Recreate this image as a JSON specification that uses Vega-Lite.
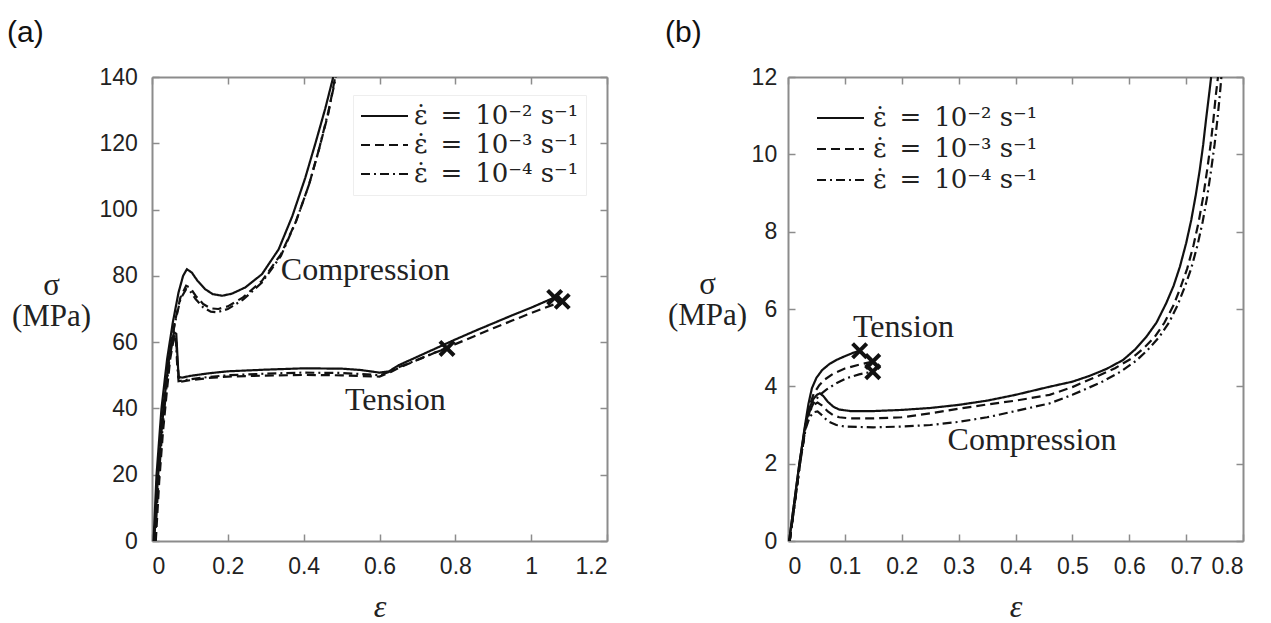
{
"$schema":"https://vega.github.io/schema/vega-lite/v6.json",
"padding":{"left":7,"top":18,"right":5,"bottom":5},
"background":"white",
"datasets":{
"curves":[
{"p":"a","m":"C","r":"2","e":0.004,"s":0},{"p":"a","m":"C","r":"2","e":0.012,"s":20},{"p":"a","m":"C","r":"2","e":0.025,"s":40},{"p":"a","m":"C","r":"2","e":0.04,"s":55},{"p":"a","m":"C","r":"2","e":0.055,"s":66},{"p":"a","m":"C","r":"2","e":0.07,"s":75},{"p":"a","m":"C","r":"2","e":0.082,"s":80},{"p":"a","m":"C","r":"2","e":0.092,"s":82},{"p":"a","m":"C","r":"2","e":0.105,"s":81},{"p":"a","m":"C","r":"2","e":0.12,"s":78.5},{"p":"a","m":"C","r":"2","e":0.14,"s":76},{"p":"a","m":"C","r":"2","e":0.16,"s":74.5},{"p":"a","m":"C","r":"2","e":0.185,"s":74},{"p":"a","m":"C","r":"2","e":0.21,"s":74.6},{"p":"a","m":"C","r":"2","e":0.246,"s":76.5},{"p":"a","m":"C","r":"2","e":0.29,"s":80.5},{"p":"a","m":"C","r":"2","e":0.334,"s":88},{"p":"a","m":"C","r":"2","e":0.37,"s":98},{"p":"a","m":"C","r":"2","e":0.404,"s":109.5},{"p":"a","m":"C","r":"2","e":0.431,"s":120},{"p":"a","m":"C","r":"2","e":0.457,"s":130.5},{"p":"a","m":"C","r":"2","e":0.478,"s":140},
{"p":"a","m":"C","r":"3","e":0.008,"s":0},{"p":"a","m":"C","r":"3","e":0.016,"s":20},{"p":"a","m":"C","r":"3","e":0.03,"s":40},{"p":"a","m":"C","r":"3","e":0.045,"s":55},{"p":"a","m":"C","r":"3","e":0.06,"s":66},{"p":"a","m":"C","r":"3","e":0.075,"s":73.5},{"p":"a","m":"C","r":"3","e":0.09,"s":77},{"p":"a","m":"C","r":"3","e":0.1,"s":76.5},{"p":"a","m":"C","r":"3","e":0.115,"s":74},{"p":"a","m":"C","r":"3","e":0.135,"s":71.5},{"p":"a","m":"C","r":"3","e":0.155,"s":70.2},{"p":"a","m":"C","r":"3","e":0.175,"s":70},{"p":"a","m":"C","r":"3","e":0.2,"s":70.8},{"p":"a","m":"C","r":"3","e":0.24,"s":73.5},{"p":"a","m":"C","r":"3","e":0.29,"s":78.5},{"p":"a","m":"C","r":"3","e":0.34,"s":86.5},{"p":"a","m":"C","r":"3","e":0.38,"s":96.5},{"p":"a","m":"C","r":"3","e":0.414,"s":107.5},{"p":"a","m":"C","r":"3","e":0.44,"s":118},{"p":"a","m":"C","r":"3","e":0.465,"s":129},{"p":"a","m":"C","r":"3","e":0.483,"s":140},
{"p":"a","m":"C","r":"4","e":0.006,"s":0},{"p":"a","m":"C","r":"4","e":0.014,"s":20},{"p":"a","m":"C","r":"4","e":0.028,"s":40},{"p":"a","m":"C","r":"4","e":0.044,"s":55},{"p":"a","m":"C","r":"4","e":0.06,"s":65.5},{"p":"a","m":"C","r":"4","e":0.075,"s":73},{"p":"a","m":"C","r":"4","e":0.09,"s":76},{"p":"a","m":"C","r":"4","e":0.1,"s":75.5},{"p":"a","m":"C","r":"4","e":0.115,"s":73},{"p":"a","m":"C","r":"4","e":0.135,"s":70.5},{"p":"a","m":"C","r":"4","e":0.155,"s":69.2},{"p":"a","m":"C","r":"4","e":0.172,"s":69},{"p":"a","m":"C","r":"4","e":0.2,"s":70},{"p":"a","m":"C","r":"4","e":0.24,"s":72.8},{"p":"a","m":"C","r":"4","e":0.29,"s":78},{"p":"a","m":"C","r":"4","e":0.34,"s":86},{"p":"a","m":"C","r":"4","e":0.38,"s":96.5},{"p":"a","m":"C","r":"4","e":0.414,"s":107.5},{"p":"a","m":"C","r":"4","e":0.44,"s":118},{"p":"a","m":"C","r":"4","e":0.465,"s":129.5},{"p":"a","m":"C","r":"4","e":0.485,"s":140},
{"p":"a","m":"T","r":"2","e":0.006,"s":0},{"p":"a","m":"T","r":"2","e":0.015,"s":18},{"p":"a","m":"T","r":"2","e":0.025,"s":33},{"p":"a","m":"T","r":"2","e":0.035,"s":45},{"p":"a","m":"T","r":"2","e":0.045,"s":55},{"p":"a","m":"T","r":"2","e":0.052,"s":60},{"p":"a","m":"T","r":"2","e":0.058,"s":63},{"p":"a","m":"T","r":"2","e":0.064,"s":62.5},{"p":"a","m":"T","r":"2","e":0.067,"s":56},{"p":"a","m":"T","r":"2","e":0.07,"s":49.5},{"p":"a","m":"T","r":"2","e":0.08,"s":49.3},{"p":"a","m":"T","r":"2","e":0.1,"s":49.8},{"p":"a","m":"T","r":"2","e":0.15,"s":50.6},{"p":"a","m":"T","r":"2","e":0.2,"s":51.2},{"p":"a","m":"T","r":"2","e":0.3,"s":51.7},{"p":"a","m":"T","r":"2","e":0.4,"s":52.1},{"p":"a","m":"T","r":"2","e":0.5,"s":52},{"p":"a","m":"T","r":"2","e":0.55,"s":51.6},{"p":"a","m":"T","r":"2","e":0.6,"s":50.8},{"p":"a","m":"T","r":"2","e":0.625,"s":51.2},{"p":"a","m":"T","r":"2","e":0.65,"s":53},{"p":"a","m":"T","r":"2","e":0.7,"s":55.6},{"p":"a","m":"T","r":"2","e":0.75,"s":58.2},{"p":"a","m":"T","r":"2","e":0.8,"s":60.8},{"p":"a","m":"T","r":"2","e":0.85,"s":63.3},{"p":"a","m":"T","r":"2","e":0.9,"s":65.7},{"p":"a","m":"T","r":"2","e":0.95,"s":68.1},{"p":"a","m":"T","r":"2","e":1.0,"s":70.4},{"p":"a","m":"T","r":"2","e":1.062,"s":73.5},
{"p":"a","m":"T","r":"3","e":0.01,"s":0},{"p":"a","m":"T","r":"3","e":0.019,"s":18},{"p":"a","m":"T","r":"3","e":0.029,"s":33},{"p":"a","m":"T","r":"3","e":0.039,"s":45},{"p":"a","m":"T","r":"3","e":0.048,"s":55},{"p":"a","m":"T","r":"3","e":0.055,"s":59.5},{"p":"a","m":"T","r":"3","e":0.06,"s":61.5},{"p":"a","m":"T","r":"3","e":0.064,"s":60.5},{"p":"a","m":"T","r":"3","e":0.067,"s":54},{"p":"a","m":"T","r":"3","e":0.072,"s":48},{"p":"a","m":"T","r":"3","e":0.1,"s":48.5},{"p":"a","m":"T","r":"3","e":0.15,"s":49.2},{"p":"a","m":"T","r":"3","e":0.2,"s":49.6},{"p":"a","m":"T","r":"3","e":0.3,"s":49.9},{"p":"a","m":"T","r":"3","e":0.4,"s":50.1},{"p":"a","m":"T","r":"3","e":0.5,"s":50},{"p":"a","m":"T","r":"3","e":0.55,"s":49.8},{"p":"a","m":"T","r":"3","e":0.6,"s":49.6},{"p":"a","m":"T","r":"3","e":0.63,"s":51},{"p":"a","m":"T","r":"3","e":0.65,"s":52.2},{"p":"a","m":"T","r":"3","e":0.7,"s":54.6},{"p":"a","m":"T","r":"3","e":0.75,"s":57},{"p":"a","m":"T","r":"3","e":0.8,"s":59.4},{"p":"a","m":"T","r":"3","e":0.85,"s":61.8},{"p":"a","m":"T","r":"3","e":0.9,"s":64.2},{"p":"a","m":"T","r":"3","e":0.95,"s":66.5},{"p":"a","m":"T","r":"3","e":1.0,"s":68.8},{"p":"a","m":"T","r":"3","e":1.082,"s":72.3},
{"p":"a","m":"T","r":"4","e":0.008,"s":0},{"p":"a","m":"T","r":"4","e":0.017,"s":18},{"p":"a","m":"T","r":"4","e":0.027,"s":33},{"p":"a","m":"T","r":"4","e":0.037,"s":45},{"p":"a","m":"T","r":"4","e":0.046,"s":55},{"p":"a","m":"T","r":"4","e":0.053,"s":59.5},{"p":"a","m":"T","r":"4","e":0.059,"s":62},{"p":"a","m":"T","r":"4","e":0.063,"s":61},{"p":"a","m":"T","r":"4","e":0.066,"s":54},{"p":"a","m":"T","r":"4","e":0.07,"s":48.2},{"p":"a","m":"T","r":"4","e":0.1,"s":48.8},{"p":"a","m":"T","r":"4","e":0.15,"s":49.5},{"p":"a","m":"T","r":"4","e":0.2,"s":50},{"p":"a","m":"T","r":"4","e":0.3,"s":50.5},{"p":"a","m":"T","r":"4","e":0.4,"s":50.8},{"p":"a","m":"T","r":"4","e":0.5,"s":50.7},{"p":"a","m":"T","r":"4","e":0.55,"s":50.4},{"p":"a","m":"T","r":"4","e":0.6,"s":50},{"p":"a","m":"T","r":"4","e":0.63,"s":51.2},{"p":"a","m":"T","r":"4","e":0.65,"s":52.4},{"p":"a","m":"T","r":"4","e":0.7,"s":54.7},{"p":"a","m":"T","r":"4","e":0.75,"s":57},{"p":"a","m":"T","r":"4","e":0.778,"s":58.1},
{"p":"b","m":"T","r":"2","e":0.002,"s":0},{"p":"b","m":"T","r":"2","e":0.02,"s":2},{"p":"b","m":"T","r":"2","e":0.03,"s":3},{"p":"b","m":"T","r":"2","e":0.036,"s":3.55},{"p":"b","m":"T","r":"2","e":0.042,"s":3.95},{"p":"b","m":"T","r":"2","e":0.05,"s":4.22},{"p":"b","m":"T","r":"2","e":0.06,"s":4.42},{"p":"b","m":"T","r":"2","e":0.073,"s":4.58},{"p":"b","m":"T","r":"2","e":0.085,"s":4.68},{"p":"b","m":"T","r":"2","e":0.1,"s":4.78},{"p":"b","m":"T","r":"2","e":0.115,"s":4.87},{"p":"b","m":"T","r":"2","e":0.126,"s":4.92},
{"p":"b","m":"T","r":"3","e":0.003,"s":0},{"p":"b","m":"T","r":"3","e":0.021,"s":2},{"p":"b","m":"T","r":"3","e":0.031,"s":3},{"p":"b","m":"T","r":"3","e":0.038,"s":3.5},{"p":"b","m":"T","r":"3","e":0.045,"s":3.8},{"p":"b","m":"T","r":"3","e":0.055,"s":4.03},{"p":"b","m":"T","r":"3","e":0.065,"s":4.18},{"p":"b","m":"T","r":"3","e":0.08,"s":4.33},{"p":"b","m":"T","r":"3","e":0.1,"s":4.46},{"p":"b","m":"T","r":"3","e":0.125,"s":4.56},{"p":"b","m":"T","r":"3","e":0.149,"s":4.64},
{"p":"b","m":"T","r":"4","e":0.003,"s":0},{"p":"b","m":"T","r":"4","e":0.021,"s":2},{"p":"b","m":"T","r":"4","e":0.031,"s":2.95},{"p":"b","m":"T","r":"4","e":0.038,"s":3.35},{"p":"b","m":"T","r":"4","e":0.046,"s":3.6},{"p":"b","m":"T","r":"4","e":0.056,"s":3.78},{"p":"b","m":"T","r":"4","e":0.068,"s":3.92},{"p":"b","m":"T","r":"4","e":0.085,"s":4.08},{"p":"b","m":"T","r":"4","e":0.103,"s":4.21},{"p":"b","m":"T","r":"4","e":0.125,"s":4.31},{"p":"b","m":"T","r":"4","e":0.149,"s":4.38},
{"p":"b","m":"C","r":"2","e":0.002,"s":0},{"p":"b","m":"C","r":"2","e":0.02,"s":2},{"p":"b","m":"C","r":"2","e":0.03,"s":2.95},{"p":"b","m":"C","r":"2","e":0.038,"s":3.45},{"p":"b","m":"C","r":"2","e":0.045,"s":3.68},{"p":"b","m":"C","r":"2","e":0.051,"s":3.78},{"p":"b","m":"C","r":"2","e":0.056,"s":3.82},{"p":"b","m":"C","r":"2","e":0.062,"s":3.75},{"p":"b","m":"C","r":"2","e":0.07,"s":3.6},{"p":"b","m":"C","r":"2","e":0.08,"s":3.47},{"p":"b","m":"C","r":"2","e":0.09,"s":3.4},{"p":"b","m":"C","r":"2","e":0.11,"s":3.36},{"p":"b","m":"C","r":"2","e":0.15,"s":3.36},{"p":"b","m":"C","r":"2","e":0.2,"s":3.39},{"p":"b","m":"C","r":"2","e":0.25,"s":3.44},{"p":"b","m":"C","r":"2","e":0.3,"s":3.52},{"p":"b","m":"C","r":"2","e":0.35,"s":3.63},{"p":"b","m":"C","r":"2","e":0.4,"s":3.78},{"p":"b","m":"C","r":"2","e":0.46,"s":3.99},{"p":"b","m":"C","r":"2","e":0.5,"s":4.12},{"p":"b","m":"C","r":"2","e":0.53,"s":4.27},{"p":"b","m":"C","r":"2","e":0.56,"s":4.45},{"p":"b","m":"C","r":"2","e":0.589,"s":4.68},{"p":"b","m":"C","r":"2","e":0.61,"s":4.95},{"p":"b","m":"C","r":"2","e":0.63,"s":5.28},{"p":"b","m":"C","r":"2","e":0.648,"s":5.65},{"p":"b","m":"C","r":"2","e":0.665,"s":6.15},{"p":"b","m":"C","r":"2","e":0.678,"s":6.6},{"p":"b","m":"C","r":"2","e":0.689,"s":7.09},{"p":"b","m":"C","r":"2","e":0.7,"s":7.7},{"p":"b","m":"C","r":"2","e":0.709,"s":8.3},{"p":"b","m":"C","r":"2","e":0.717,"s":8.95},{"p":"b","m":"C","r":"2","e":0.724,"s":9.6},{"p":"b","m":"C","r":"2","e":0.73,"s":10.25},{"p":"b","m":"C","r":"2","e":0.735,"s":10.9},{"p":"b","m":"C","r":"2","e":0.74,"s":11.5},{"p":"b","m":"C","r":"2","e":0.744,"s":12},
{"p":"b","m":"C","r":"3","e":0.003,"s":0},{"p":"b","m":"C","r":"3","e":0.021,"s":2},{"p":"b","m":"C","r":"3","e":0.031,"s":2.95},{"p":"b","m":"C","r":"3","e":0.038,"s":3.35},{"p":"b","m":"C","r":"3","e":0.045,"s":3.52},{"p":"b","m":"C","r":"3","e":0.052,"s":3.58},{"p":"b","m":"C","r":"3","e":0.06,"s":3.5},{"p":"b","m":"C","r":"3","e":0.07,"s":3.35},{"p":"b","m":"C","r":"3","e":0.08,"s":3.25},{"p":"b","m":"C","r":"3","e":0.09,"s":3.2},{"p":"b","m":"C","r":"3","e":0.11,"s":3.17},{"p":"b","m":"C","r":"3","e":0.15,"s":3.17},{"p":"b","m":"C","r":"3","e":0.2,"s":3.2},{"p":"b","m":"C","r":"3","e":0.25,"s":3.3},{"p":"b","m":"C","r":"3","e":0.3,"s":3.42},{"p":"b","m":"C","r":"3","e":0.35,"s":3.53},{"p":"b","m":"C","r":"3","e":0.4,"s":3.63},{"p":"b","m":"C","r":"3","e":0.46,"s":3.78},{"p":"b","m":"C","r":"3","e":0.5,"s":3.98},{"p":"b","m":"C","r":"3","e":0.545,"s":4.27},{"p":"b","m":"C","r":"3","e":0.575,"s":4.47},{"p":"b","m":"C","r":"3","e":0.604,"s":4.72},{"p":"b","m":"C","r":"3","e":0.625,"s":4.98},{"p":"b","m":"C","r":"3","e":0.645,"s":5.28},{"p":"b","m":"C","r":"3","e":0.662,"s":5.65},{"p":"b","m":"C","r":"3","e":0.678,"s":6.1},{"p":"b","m":"C","r":"3","e":0.69,"s":6.55},{"p":"b","m":"C","r":"3","e":0.702,"s":7.05},{"p":"b","m":"C","r":"3","e":0.713,"s":7.65},{"p":"b","m":"C","r":"3","e":0.722,"s":8.25},{"p":"b","m":"C","r":"3","e":0.73,"s":8.9},{"p":"b","m":"C","r":"3","e":0.737,"s":9.6},{"p":"b","m":"C","r":"3","e":0.743,"s":10.25},{"p":"b","m":"C","r":"3","e":0.748,"s":10.9},{"p":"b","m":"C","r":"3","e":0.752,"s":11.5},{"p":"b","m":"C","r":"3","e":0.756,"s":12},
{"p":"b","m":"C","r":"4","e":0.003,"s":0},{"p":"b","m":"C","r":"4","e":0.021,"s":2},{"p":"b","m":"C","r":"4","e":0.031,"s":2.9},{"p":"b","m":"C","r":"4","e":0.038,"s":3.2},{"p":"b","m":"C","r":"4","e":0.045,"s":3.33},{"p":"b","m":"C","r":"4","e":0.052,"s":3.35},{"p":"b","m":"C","r":"4","e":0.06,"s":3.25},{"p":"b","m":"C","r":"4","e":0.07,"s":3.1},{"p":"b","m":"C","r":"4","e":0.085,"s":3.0},{"p":"b","m":"C","r":"4","e":0.1,"s":2.96},{"p":"b","m":"C","r":"4","e":0.15,"s":2.94},{"p":"b","m":"C","r":"4","e":0.2,"s":2.96},{"p":"b","m":"C","r":"4","e":0.25,"s":3.0},{"p":"b","m":"C","r":"4","e":0.3,"s":3.08},{"p":"b","m":"C","r":"4","e":0.35,"s":3.2},{"p":"b","m":"C","r":"4","e":0.4,"s":3.36},{"p":"b","m":"C","r":"4","e":0.46,"s":3.56},{"p":"b","m":"C","r":"4","e":0.5,"s":3.78},{"p":"b","m":"C","r":"4","e":0.55,"s":4.1},{"p":"b","m":"C","r":"4","e":0.585,"s":4.38},{"p":"b","m":"C","r":"4","e":0.612,"s":4.66},{"p":"b","m":"C","r":"4","e":0.633,"s":4.95},{"p":"b","m":"C","r":"4","e":0.653,"s":5.28},{"p":"b","m":"C","r":"4","e":0.67,"s":5.65},{"p":"b","m":"C","r":"4","e":0.685,"s":6.1},{"p":"b","m":"C","r":"4","e":0.697,"s":6.55},{"p":"b","m":"C","r":"4","e":0.709,"s":7.05},{"p":"b","m":"C","r":"4","e":0.72,"s":7.65},{"p":"b","m":"C","r":"4","e":0.729,"s":8.25},{"p":"b","m":"C","r":"4","e":0.737,"s":8.9},{"p":"b","m":"C","r":"4","e":0.744,"s":9.6},{"p":"b","m":"C","r":"4","e":0.75,"s":10.25},{"p":"b","m":"C","r":"4","e":0.755,"s":10.9},{"p":"b","m":"C","r":"4","e":0.759,"s":11.5},{"p":"b","m":"C","r":"4","e":0.762,"s":12}
],
"markers":[
{"p":"a","r":"2","e":1.062,"s":73.5},{"p":"a","r":"3","e":1.082,"s":72.3},{"p":"a","r":"4","e":0.778,"s":58.1},
{"p":"b","r":"2","e":0.126,"s":4.92},{"p":"b","r":"3","e":0.149,"s":4.64},{"p":"b","r":"4","e":0.149,"s":4.38}
],
"notes":[
{"p":"a","label":"Compression","e":0.5625,"s":81.8},{"p":"a","label":"Tension","e":0.642,"s":42.5},
{"p":"b","label":"Tension","e":0.203,"s":5.53},{"p":"b","label":"Compression","e":0.429,"s":2.61}
]
},
"hconcat":[
{
"width":455,"height":464,
"title":{"text":"(a)","anchor":"start","frame":"group","dx":-145,"offset":-6,"baseline":"alphabetic","font":"Liberation Sans","fontSize":30,"fontWeight":"normal","color":"#111"},
"layer":[
{"data":{"name":"curves"},"transform":[{"filter":"datum.p=='a'"}],
"mark":{"type":"line","color":"#111","strokeWidth":2.2,"clip":true},
"encoding":{
"x":{"field":"e","type":"quantitative","scale":{"domain":[0,1.2],"nice":false},"axis":{"orient":"bottom","values":[0,0.2,0.4,0.6,0.8,1,1.2],"format":"~g","labelPadding":21.5,"title":"ε","titleFontStyle":"italic","titleY":75,"titleBaseline":"alphabetic"}},
"y":{"field":"s","type":"quantitative","scale":{"domain":[0,140],"nice":false},"axis":{"orient":"left","values":[0,20,40,60,80,100,120,140],"labelPadding":21.7,"title":["σ","(MPa)"],"titleFontSize":31,"titleAngle":0,"titleAlign":"center","titleX":-101,"titleY":217,"titleBaseline":"alphabetic","titleLineHeight":31}},
"strokeDash":{"field":"r","type":"nominal","scale":{"domain":["2","3","4"],"range":[[1,0],[9,5],[9,4,2,4]]},
"legend":{"orient":"none","legendX":201,"legendY":18,"padding":7,"fillColor":"#ffffff","strokeColor":"#eeeeee","symbolType":"stroke","symbolSize":2209,"symbolStrokeWidth":2,"symbolStrokeColor":"#111","clipHeight":28,"rowPadding":1,"labelFont":"DejaVu Serif","labelFontSize":26,"labelColor":"#222","labelOffset":5,"labelLimit":400,"title":null,
"labelExpr":"datum.label=='2' ? '\u03b5\u0307\u2002=\u200210\u207b\u00b2 s\u207b\u00b9' : datum.label=='3' ? '\u03b5\u0307\u2002=\u200210\u207b\u00b3 s\u207b\u00b9' : '\u03b5\u0307\u2002=\u200210\u207b\u2074 s\u207b\u00b9'"}},
"detail":{"field":"m"}
}},
{"data":{"name":"markers"},"transform":[{"filter":"datum.p=='a'"}],
"mark":{"type":"point","shape":"M-1,-1L1,1M-1,1L1,-1","filled":false,"stroke":"#111","strokeWidth":4,"size":200,"opacity":1},
"encoding":{"x":{"field":"e","type":"quantitative","axis":null},"y":{"field":"s","type":"quantitative","axis":null}}},
{"data":{"name":"notes"},"transform":[{"filter":"datum.p=='a'"}],
"mark":{"type":"text","font":"Liberation Serif","fontSize":32,"color":"#222","align":"center","baseline":"middle"},
"encoding":{
"x":{"field":"e","type":"quantitative","scale":{"domain":[0,1.2],"nice":false},"axis":{"orient":"top","values":[0,0.2,0.4,0.6,0.8,1,1.2],"labels":false,"title":null}},
"y":{"field":"s","type":"quantitative","scale":{"domain":[0,140],"nice":false},"axis":{"orient":"right","values":[0,20,40,60,80,100,120,140],"labels":false,"title":null}},
"text":{"field":"label"}}}
],
"resolve":{"axis":{"x":"independent","y":"independent"}}
},
{
"width":455,"height":464,
"title":{"text":"(b)","anchor":"start","frame":"group","dx":-123,"offset":-6,"baseline":"alphabetic","font":"Liberation Sans","fontSize":30,"fontWeight":"normal","color":"#111"},
"layer":[
{"data":{"name":"curves"},"transform":[{"filter":"datum.p=='b'"}],
"mark":{"type":"line","color":"#111","strokeWidth":2.2,"clip":true},
"encoding":{
"x":{"field":"e","type":"quantitative","scale":{"domain":[0,0.8],"nice":false},"axis":{"orient":"bottom","values":[0,0.1,0.2,0.3,0.4,0.5,0.6,0.7,0.8],"format":"~g","labelPadding":21.5,"title":"ε","titleFontStyle":"italic","titleY":75,"titleBaseline":"alphabetic"}},
"y":{"field":"s","type":"quantitative","scale":{"domain":[0,12],"nice":false},"axis":{"orient":"left","values":[0,2,4,6,8,10,12],"labelPadding":18.3,"title":["σ","(MPa)"],"titleFontSize":31,"titleAngle":0,"titleAlign":"center","titleX":-81,"titleY":216,"titleBaseline":"alphabetic","titleLineHeight":31}},
"strokeDash":{"field":"r","type":"nominal","scale":{"domain":["2","3","4"],"range":[[1,0],[9,5],[9,4,2,4]]},
"legend":{"orient":"none","legendX":21,"legendY":20,"padding":7,"symbolType":"stroke","symbolSize":2209,"symbolStrokeWidth":2,"symbolStrokeColor":"#111","clipHeight":28,"rowPadding":3,"labelFont":"DejaVu Serif","labelFontSize":26,"labelColor":"#222","labelOffset":8,"labelLimit":400,"title":null,
"labelExpr":"datum.label=='2' ? '\u03b5\u0307\u2002=\u200210\u207b\u00b2 s\u207b\u00b9' : datum.label=='3' ? '\u03b5\u0307\u2002=\u200210\u207b\u00b3 s\u207b\u00b9' : '\u03b5\u0307\u2002=\u200210\u207b\u2074 s\u207b\u00b9'"}},
"detail":{"field":"m"}
}},
{"data":{"name":"markers"},"transform":[{"filter":"datum.p=='b'"}],
"mark":{"type":"point","shape":"M-1,-1L1,1M-1,1L1,-1","filled":false,"stroke":"#111","strokeWidth":4,"size":200,"opacity":1},
"encoding":{"x":{"field":"e","type":"quantitative","axis":null},"y":{"field":"s","type":"quantitative","axis":null}}},
{"data":{"name":"notes"},"transform":[{"filter":"datum.p=='b'"}],
"mark":{"type":"text","font":"Liberation Serif","fontSize":32,"color":"#222","align":"center","baseline":"middle"},
"encoding":{
"x":{"field":"e","type":"quantitative","scale":{"domain":[0,0.8],"nice":false},"axis":{"orient":"top","values":[0,0.1,0.2,0.3,0.4,0.5,0.6,0.7,0.8],"labels":false,"title":null}},
"y":{"field":"s","type":"quantitative","scale":{"domain":[0,12],"nice":false},"axis":{"orient":"right","values":[0,2,4,6,8,10,12],"labels":false,"title":null}},
"text":{"field":"label"}}}
],
"resolve":{"axis":{"x":"independent","y":"independent"}}
}
],
"spacing":181,
"bounds":"flush",
"resolve":{"scale":{"strokeDash":"independent"},"legend":{"strokeDash":"independent"}},
"config":{
"view":{"stroke":null},
"axis":{"minExtent":0,"domainColor":"#8c8c8c","domainWidth":2,"tickColor":"#8c8c8c","tickWidth":1.5,"tickSize":-7,"labelFont":"Liberation Sans","labelFontSize":23,"labelColor":"#222","grid":false,"titleFont":"Liberation Serif","titleFontSize":32,"titleFontWeight":"normal","titleColor":"#222"}
}
}
